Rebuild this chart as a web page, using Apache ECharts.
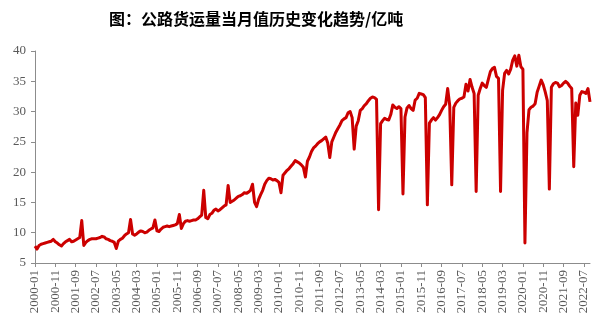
<!DOCTYPE html>
<html>
<head>
<meta charset="utf-8">
<script src="https://cdn.jsdelivr.net/npm/echarts@6/dist/echarts.min.js"></script>
<style>
html,body{margin:0;padding:0;background:#fff;}
#chart{width:600px;height:328px;}
</style>
</head>
<body>
<div id="chart"></div>
<script>
const titleText = '图：公路货运量当月值历史变化趋势/亿吨';
const startYear = 2000;
const endYear = 2022;
const endMonth = 10;
const yTicks = [5, 10, 15, 20, 25, 30, 35, 40];
const volume = [
  // 2000
  7.8, 7.3, 7.9, 8.1, 8.2, 8.3, 8.4, 8.5, 8.6, 8.9, 8.5, 8.3,
  // 2001
  8.0, 7.8, 8.2, 8.5, 8.7, 8.9, 8.5, 8.6, 8.8, 9.0, 9.2, 12.0,
  // 2002
  7.9, 8.4, 8.7, 8.9, 9.0, 9.0, 9.0, 9.1, 9.2, 9.4, 9.3, 9.0,
  // 2003
  8.9, 8.7, 8.6, 8.4, 7.4, 8.6, 8.9, 9.1, 9.5, 9.8, 10.0, 12.2,
  // 2004
  9.8, 9.6, 9.8, 10.1, 10.3, 10.2, 10.0, 10.1, 10.4, 10.6, 10.8, 12.1,
  // 2005
  10.3, 10.2, 10.6, 10.9, 11.0, 11.1, 11.0, 11.1, 11.2, 11.3, 11.5, 13.0,
  // 2006
  10.7, 11.5, 11.9, 12.0, 11.9, 12.0, 12.1, 12.1, 12.3, 12.6, 12.9, 17.0,
  // 2007
  12.5, 12.3, 13.0, 13.2, 13.7, 13.9, 13.6, 13.8, 14.1, 14.4, 14.6, 17.8,
  // 2008
  15.0, 15.2, 15.4, 15.7, 16.0, 16.1, 16.3, 16.6, 16.5, 16.7, 17.0, 18.0,
  // 2009
  15.0, 14.3, 15.5, 16.3, 17.0, 18.0, 18.6, 19.0, 18.9, 18.7, 18.8, 18.6,
  // 2010
  18.3, 16.6, 19.5, 19.9, 20.3, 20.6, 21.0, 21.4, 21.9, 21.7, 21.5, 21.2,
  // 2011
  20.8, 19.2, 21.8, 22.5, 23.4, 24.0, 24.3, 24.7, 25.0, 25.2, 25.5, 25.8,
  // 2012
  24.8, 22.4, 25.0, 25.8, 26.6, 27.2, 27.8, 28.5, 28.8, 29.0, 29.8, 30.0,
  // 2013
  29.0, 23.8, 27.6, 28.5, 30.2, 30.5, 31.0, 31.3, 31.8, 32.2, 32.4, 32.3,
  // 2014
  32.0, 13.8, 28.0, 28.5, 28.9, 28.7, 28.6, 29.5, 31.1, 30.7, 30.5, 30.8,
  // 2015
  30.5, 16.4, 29.1, 30.6, 31.0, 30.5, 30.2, 31.9, 32.2, 33.0, 32.9, 32.8,
  // 2016
  32.3, 14.6, 28.1, 28.6, 29.0, 28.6, 29.0, 29.5, 30.2, 30.8, 31.2, 33.8,
  // 2017
  31.0, 17.9, 30.7, 31.4, 31.8, 32.1, 32.2, 32.4, 34.5, 33.4, 35.3, 34.0,
  // 2018
  33.0, 16.8, 32.7, 33.8, 34.7, 34.3, 34.0, 35.3, 36.6, 37.1, 37.3, 35.8,
  // 2019
  35.5, 16.8, 33.5, 36.3, 36.8, 36.2, 37.0, 38.5, 39.2, 37.5, 39.3, 37.4,
  // 2020
  37.0, 8.3, 26.5, 30.3, 30.7, 30.9, 31.3, 33.2, 34.2, 35.2, 34.4, 33.2,
  // 2021
  31.8, 17.2, 34.0, 34.6, 34.8, 34.7, 34.1, 34.3, 34.7, 35.0, 34.7, 34.2,
  // 2022
  33.8, 20.9, 31.4, 29.4, 32.7, 33.3, 33.2, 33.0, 33.8, 31.6
];

const categories = [];
for (let y = startYear; y <= endYear; y++) {
  const last = (y === endYear) ? endMonth : 12;
  for (let m = 1; m <= last; m++) {
    categories.push(y + '-' + (m < 10 ? '0' + m : '' + m));
  }
}

const chart = echarts.init(document.getElementById('chart'), null, {renderer: 'canvas'});
chart.setOption({
  animation: false,
  backgroundColor: '#ffffff',
  title: {
    text: titleText,
    left: 104,
    top: 6,
    textStyle: {
      fontFamily: '"Noto Sans CJK SC", sans-serif',
      fontWeight: 'bold',
      fontSize: 16,
      color: '#000000'
    }
  },
  grid: {left: 35, right: 10, top: 51, bottom: 65, containLabel: false},
  xAxis: {
    type: 'category',
    data: categories,
    boundaryGap: false,
    axisLine: {lineStyle: {color: '#8c8c8c', width: 1}},
    axisTick: {show: true, interval: 9, length: 4, lineStyle: {color: '#8c8c8c'}},
    axisLabel: {
      interval: 9,
      rotate: 90,
      color: '#595959',
      fontFamily: '"Liberation Serif", serif',
      fontSize: 13,
      margin: 7
    },
    splitLine: {show: false}
  },
  yAxis: {
    type: 'value',
    min: yTicks[0],
    max: yTicks[yTicks.length - 1],
    interval: 5,
    axisLine: {show: true, lineStyle: {color: '#8c8c8c', width: 1}},
    axisTick: {show: true, length: 4, lineStyle: {color: '#8c8c8c'}},
    axisLabel: {
      color: '#595959',
      fontFamily: '"Liberation Serif", serif',
      fontSize: 13,
      margin: 9
    },
    splitLine: {show: false}
  },
  series: [{
    type: 'line',
    data: volume,
    showSymbol: false,
    symbol: 'none',
    lineStyle: {color: '#CC0000', width: 3, join: 'round'},
    itemStyle: {color: '#CC0000'}
  }]
});
</script>
</body>
</html>
